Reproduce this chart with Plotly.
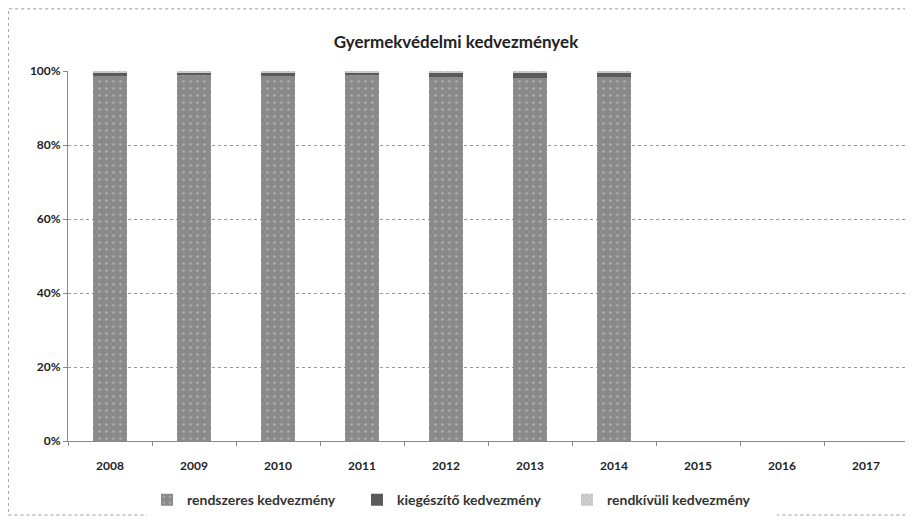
import plotly.graph_objects as go

years = ["2008", "2009", "2010", "2011", "2012", "2013", "2014", "2015", "2016", "2017"]
rendszeres = [98.6, 98.8, 98.7, 98.9, 98.5, 98.2, 98.4, None, None, None]
kiegeszito = [1.0, 0.9, 1.0, 0.8, 1.1, 1.2, 1.1, None, None, None]
rendkivuli = [0.4, 0.3, 0.3, 0.3, 0.4, 0.6, 0.5, None, None, None]
y_ticks = [0, 20, 40, 60, 80, 100]
y_ticklabels = ["0%", "20%", "40%", "60%", "80%", "100%"]

fam = "Lato, 'Open Sans', sans-serif"

fig = go.Figure()
fig.add_bar(x=years, y=rendszeres, name="rendszeres kedvezmény",
            marker=dict(color="#8a8a8a", line=dict(width=0),
                        pattern=dict(shape=".", fgcolor="#cfcfcf", size=7, solidity=0.12)))
fig.add_bar(x=years, y=kiegeszito, name="kiegészítő kedvezmény",
            marker=dict(color="#5a5a5a", line=dict(width=0)))
fig.add_bar(x=years, y=rendkivuli, name="rendkívüli kedvezmény",
            marker=dict(color="#d0d0d0", line=dict(width=0),
                        pattern=dict(shape="x", fgcolor="#9a9a9a", size=4, solidity=0.3)))

# page body adds an 8px margin, so the figure is sized/offset to compensate
fig.update_layout(
    barmode="stack",
    bargap=0.6,
    width=905, height=513,
    margin=dict(l=60, r=5, t=63, b=80),
    paper_bgcolor="white", plot_bgcolor="white",
    font=dict(family=fam, color="#222", size=12),
    title=dict(text="<b>Gyermekvédelmi kedvezmények</b>", x=(456 - 68) / 840, xanchor="center",
               xref="paper", y=1 - 34 / 513, yanchor="middle",
               font=dict(size=17, color="#222", family=fam)),
    legend=dict(orientation="h", x=(462 - 68) / 840, xanchor="center", y=-0.16, yanchor="middle",
                font=dict(size=14, color="#333", family=fam, weight="bold"), traceorder="normal",
                entrywidth=165, entrywidthmode="pixels", itemwidth=30),
    showlegend=True,
    shapes=[dict(type="rect", xref="paper", yref="paper", x0=-0.071, x1=1.03, y0=-0.2, y1=1.168,
                 line=dict(color="#999", width=1, dash="dot"))],
)
fig.update_xaxes(type="category", showgrid=False, ticks="outside", tickson="boundaries",
                 ticklen=4, tickcolor="#888", showline=True, linecolor="#888", linewidth=1,
                 ticklabelstandoff=14,
                 tickfont=dict(size=12, family=fam, weight="bold"))
fig.update_yaxes(range=[0, 100], tickvals=y_ticks, ticktext=y_ticklabels,
                 showgrid=True, gridcolor="#999", griddash="dot", gridwidth=1,
                 ticks="outside", ticklen=4, tickcolor="#888", showline=True,
                 linecolor="#888", linewidth=1, zeroline=False,
                 tickfont=dict(size=12, family=fam, weight="bold"))

fig.write_html("out.html")
